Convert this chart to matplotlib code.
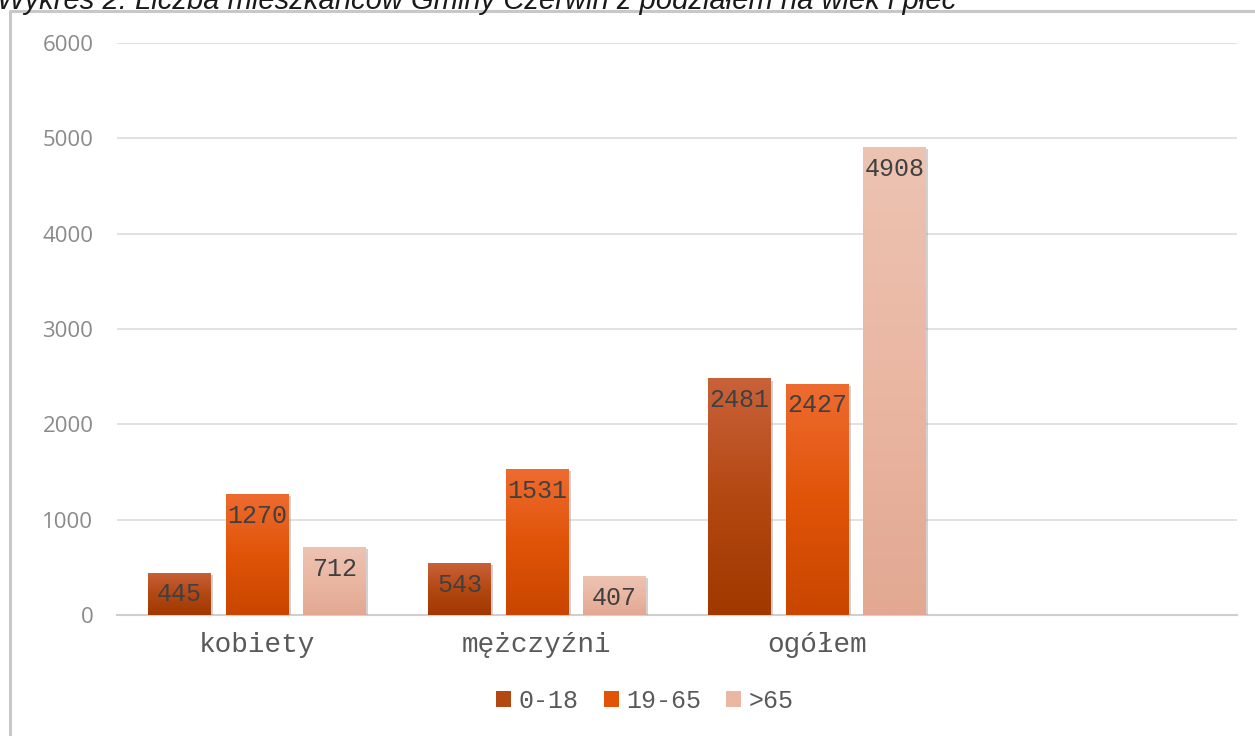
import matplotlib
matplotlib.use("Agg")
import matplotlib.pyplot as plt
import numpy as np
from matplotlib.colors import LinearSegmentedColormap
from matplotlib.patches import Patch
from matplotlib.lines import Line2D
import matplotlib.patheffects as pe

TITLE = "Wykres 2. Liczba mieszkańców Gminy Czerwin z podziałem na wiek i płeć"
categories = ["kobiety", "mężczyźni", "ogółem", ""]
series_names = ["0-18", "19-65", ">65"]
age_0_18 = [445, 543, 2481, None]
age_19_65 = [1270, 1531, 2427, None]
age_65_plus = [712, 407, 4908, None]
yticks = [0, 1000, 2000, 3000, 4000, 5000, 6000]

# top / middle / bottom colours of each series gradient
grads = [
    ("#c9623a", "#b44812", "#a03800"),
    ("#ee6b30", "#e05408", "#c94600"),
    ("#edc3b2", "#eab7a3", "#e2a892"),
]
mono = "Liberation Mono"

fig = plt.figure(figsize=(12.55, 7.36), dpi=100)
fig.patch.set_facecolor("white")
ax = fig.add_axes([117 / 1255, 121 / 736, 1120 / 1255, 572 / 736])

# chart box frame (left and top edges visible)
fig.add_artist(Line2D([9.5 / 1255, 9.5 / 1255, 1.0], [0.0, 1 - 11 / 736, 1 - 11 / 736],
                      transform=fig.transFigure, color="#c8c8c8", lw=2.2))
fig.text(-0.002, 1 - 9 / 736, TITLE, fontsize=21, style="italic", family="Liberation Sans",
         color="#1a1a1a", va="baseline", ha="left")

x = np.arange(len(categories))
width = 0.225
step = 0.277
all_series = [age_0_18, age_19_65, age_65_plus]
handles = []
for i, vals in enumerate(all_series):
    xs = [xx + (i - 1) * step for xx, v in zip(x, vals) if v is not None]
    vs = [v for v in vals if v is not None]
    top, mid, bot = grads[i]
    bars = ax.bar(xs, vs, width, color=mid, zorder=3, linewidth=0,
                  path_effects=[pe.SimplePatchShadow(offset=(1.5, -1.5), shadow_rgbFace="#999999", alpha=0.45),
                                pe.Normal()])
    cmap = LinearSegmentedColormap.from_list(f"g{i}", [bot, mid, top])
    grad = np.linspace(0, 1, 256).reshape(-1, 1)
    for b in bars:
        im = ax.imshow(grad, extent=[b.get_x(), b.get_x() + b.get_width(), 0, b.get_height()],
                       origin="lower", cmap=cmap, aspect="auto", zorder=4)
        im.set_clip_path(b)
        ax.annotate(f"{int(b.get_height())}", (b.get_x() + b.get_width() / 2, b.get_height()),
                    xytext=(0, -7), textcoords="offset points", ha="center", va="top",
                    fontsize=18, family=mono, color="#404040", zorder=6)
    handles.append(Patch(facecolor=mid, edgecolor="none", label=series_names[i]))

ax.set_xlim(-0.5, len(categories) - 0.5)
ax.set_ylim(0, 6000)
ax.set_yticks(yticks)
ax.set_yticklabels([str(t) for t in yticks], family="Open Sans", fontsize=16, color="#8a8a8a")
ax.set_xticks(x)
ax.set_xticklabels(categories, family=mono, fontsize=20, color="#595959")
ax.tick_params(axis="y", length=0, pad=17)
ax.tick_params(axis="x", length=0, pad=12)
ax.grid(axis="y", color="#dcdcdc", lw=1.2, zorder=0)
ax.set_axisbelow(True)
for s in ["top", "right", "left"]:
    ax.spines[s].set_visible(False)
ax.spines["bottom"].set_color("#d0d0d0")
ax.spines["bottom"].set_linewidth(1.5)

fig.legend(handles=handles, loc="center", bbox_to_anchor=(645 / 1255, 1 - 701 / 736), ncol=3,
           frameon=False, handlelength=0.6, handleheight=0.6, handletextpad=0.3, columnspacing=1.0,
           prop={"family": mono, "size": 18}, labelcolor="#595959")

fig.savefig("out.png", dpi=100, facecolor="white")
